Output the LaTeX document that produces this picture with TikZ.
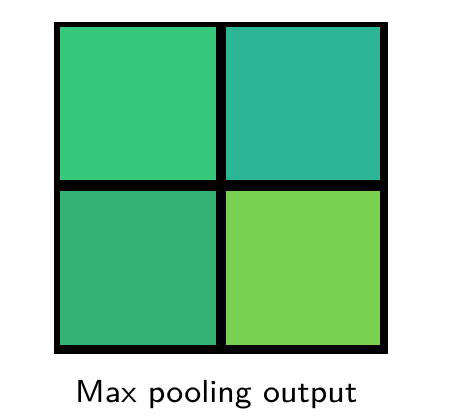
\documentclass[tikz,border=0pt]{standalone}
\usepackage{graphicx}
\begin{document}
\begin{tikzpicture}[x=1pt,y=1pt]
\definecolor{cTL}{HTML}{37C97B}
\definecolor{cTR}{HTML}{2DB696}
\definecolor{cBL}{HTML}{33B374}
\definecolor{cBR}{HTML}{7AD151}
\useasboundingbox (0,0) rectangle (453,-418);
\fill[black] (54,-21.7) rectangle (388,-354.3);
\fill[cTL] (60,-27) rectangle (215.5,-180);
\fill[cTR] (226,-27) rectangle (380,-180);
\fill[cBL] (60,-191) rectangle (215.5,-345);
\fill[cBR] (226,-191) rectangle (380,-345);
\node[anchor=base west,inner sep=0pt] (cap) at (75,-402) {\resizebox{282pt}{!}{\fontsize{8}{10}\selectfont\sffamily Max pooling output}};
\end{tikzpicture}
\end{document}
